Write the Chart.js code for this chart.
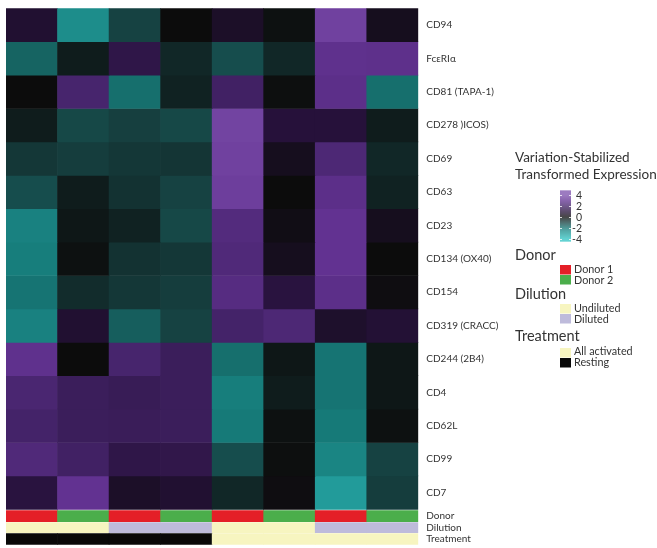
<!DOCTYPE html>
<html>
<head>
<meta charset="utf-8">
<script src="https://cdn.jsdelivr.net/npm/chart.js@4.4.1/dist/chart.umd.min.js"></script>
<style>
  html, body { margin: 0; padding: 0; background: #ffffff; }
  #wrap { width: 657px; height: 548px; }
</style>
</head>
<body>
<div id="wrap"><canvas id="heat" width="657" height="548"></canvas></div>
<script>
// Samples (columns), in plotting order
const samples = [
  'D1 Undiluted Resting', 'D2 Undiluted Resting', 'D1 Diluted Resting', 'D2 Diluted Resting',
  'D1 Undiluted Activated', 'D2 Undiluted Activated', 'D1 Diluted Activated', 'D2 Diluted Activated'
];

// Sample annotations
const donor = ['Donor 1', 'Donor 2', 'Donor 1', 'Donor 2', 'Donor 1', 'Donor 2', 'Donor 1', 'Donor 2'];
const dilution = ['Undiluted', 'Undiluted', 'Diluted', 'Diluted', 'Undiluted', 'Undiluted', 'Diluted', 'Diluted'];
const treatment = ['Resting', 'Resting', 'Resting', 'Resting', 'All activated', 'All activated', 'All activated', 'All activated'];

// Markers (rows), top to bottom
const markers = ['CD94', 'FcεRIα', 'CD81 (TAPA-1)', 'CD278 )ICOS)', 'CD69', 'CD63', 'CD23',
  'CD134 (OX40)', 'CD154', 'CD319 (CRACC)', 'CD244 (2B4)', 'CD4', 'CD62L', 'CD99', 'CD7'];

// Variation-stabilized transformed expression, one array per marker
const cd94   = [ 0.8, -2.5, -1.0,  0.0,  0.6, -0.1,  3.5,  0.4];
const fceri  = [-1.6, -0.3,  1.3, -0.5, -1.2, -0.5,  2.9,  2.85];
const cd81   = [ 0.0,  2.1, -1.8, -0.4,  1.9, -0.05, 2.8, -1.8];
const cd278  = [-0.3, -1.1, -0.95,-1.1,  3.6,  1.0,  1.0, -0.3];
const cd69   = [-0.8, -0.9, -0.8, -0.75, 3.5,  0.4,  2.3, -0.5];
const cd63   = [-1.2, -0.3, -0.7, -1.0,  3.4,  0.0,  2.8, -0.4];
const cd23   = [-2.2, -0.2, -0.4, -1.1,  2.5,  0.2,  3.0,  0.4];
const cd134  = [-2.1, -0.1, -0.7, -0.8,  2.4,  0.4,  3.0,  0.0];
const cd154  = [-1.9, -0.6, -0.8, -0.9,  2.6,  1.1,  2.8,  0.1];
const cd319  = [-2.2,  0.8, -1.5, -1.0,  2.0,  2.3,  0.7,  0.9];
const cd244  = [ 2.9,  0.0,  2.1,  1.7, -1.8, -0.2, -1.9, -0.2];
const cd4    = [ 2.2,  1.7,  1.6,  1.7, -2.1, -0.3, -1.9, -0.2];
const cd62l  = [ 2.0,  1.7,  1.65, 1.7, -2.0, -0.1, -2.0, -0.1];
const cd99   = [ 2.4,  1.9,  1.3,  1.35,-1.2, -0.05,-2.3, -1.0];
const cd7    = [ 1.1,  3.0,  0.6,  0.8, -0.5,  0.1, -2.9, -0.9];
const expression = [cd94, fceri, cd81, cd278, cd69, cd63, cd23, cd134, cd154, cd319, cd244, cd4, cd62l, cd99, cd7];

// Colour-bar tick labels
const scaleTicks = [4, 2, 0, -2, -4];

// Diverging colour map: teal (low) -> black (0) -> purple (high)
const stops = [
  [-4, [48, 196, 196]],
  [-2, [22, 122, 120]],
  [-1, [22, 66, 66]],
  [ 0, [12, 12, 12]],
  [ 1, [38, 17, 58]],
  [ 2, [68, 35, 105]],
  [ 3, [98, 50, 145]],
  [ 4, [125, 80, 172]]
];
function colourFor(v) {
  if (v <= stops[0][0]) return `rgb(${stops[0][1].join(',')})`;
  for (let i = 1; i < stops.length; i++) {
    if (v <= stops[i][0]) {
      const [v0, c0] = stops[i - 1], [v1, c1] = stops[i];
      const t = (v - v0) / (v1 - v0);
      const c = c0.map((x, k) => Math.round(x + (c1[k] - x) * t));
      return `rgb(${c.join(',')})`;
    }
  }
  return `rgb(${stops[stops.length - 1][1].join(',')})`;
}

const annotationColours = {
  'Donor 1': '#e41f27', 'Donor 2': '#4bae4b',
  'Undiluted': '#f7f5c0', 'Diluted': '#bebbdb',
  'All activated': '#f7f5c0', 'Resting': '#080808'
};

// Row bands on the y scale (units of one heatmap row)
const annotationRows = [
  { name: 'Donor', values: donor, band: [15.04, 15.37] },
  { name: 'Dilution', values: dilution, band: [15.40, 15.70] },
  { name: 'Treatment', values: treatment, band: [15.73, 16.06] }
];
const yMax = 16.06;

const datasets = [];
expression.forEach((row, r) => {
  datasets.push({
    label: markers[r],
    data: samples.map(() => [r, r + 1]),
    backgroundColor: row.map(colourFor),
    borderWidth: 0,
    grouped: false,
    categoryPercentage: 1,
    barPercentage: 1
  });
});
annotationRows.forEach(a => {
  datasets.push({
    label: a.name,
    data: samples.map(() => a.band),
    backgroundColor: a.values.map(v => annotationColours[v]),
    borderWidth: 0,
    grouped: false,
    categoryPercentage: 1,
    barPercentage: 1
  });
});

const tickValues = markers.map((_, i) => i + 0.5).concat(annotationRows.map(a => (a.band[0] + a.band[1]) / 2));
const tickLabels = markers.concat(annotationRows.map(a => a.name));

const FONT = 'Lato, "Open Sans", sans-serif';
const TEXT = '#333333';

// Legend: colour bar plus annotation keys
const legendPlugin = {
  id: 'sideLegend',
  afterDraw(chart) {
    const ctx = chart.ctx;
    ctx.save();
    ctx.fillStyle = TEXT;
    ctx.textBaseline = 'middle';
    ctx.textAlign = 'left';
    const x0 = 515;
    ctx.font = `13.5px ${FONT}`;
    ctx.fillText('Variation-Stabilized', x0, 157.5);
    ctx.fillText('Transformed Expression', x0, 175);

    // colour bar
    const bx = 560, bw = 11, top = 190.5, bottom = 241.5;
    const zeroY = 217.3, pxPerUnit = 5.5;
    for (let y = top; y < bottom; y++) {
      const v = (zeroY - (y + 0.5)) / pxPerUnit;
      ctx.fillStyle = colourFor(v);
      ctx.fillRect(bx, y, bw, 1);
    }
    ctx.strokeStyle = 'rgba(255,255,255,0.8)';
    ctx.lineWidth = 1;
    ctx.font = `10.5px ${FONT}`;
    ctx.textAlign = 'right';
    scaleTicks.forEach(t => {
      const y = Math.round(zeroY - t * pxPerUnit) + 0.5;
      ctx.beginPath();
      ctx.moveTo(bx, y); ctx.lineTo(bx + 2, y);
      ctx.moveTo(bx + bw - 2, y); ctx.lineTo(bx + bw, y);
      ctx.stroke();
      ctx.fillStyle = TEXT;
      ctx.fillText(String(t), 582, y);
    });

    // annotation keys
    const groups = [
      { title: 'Donor', titleY: 255, items: [['Donor 1', 265, 270], ['Donor 2', 275, 280.5]] },
      { title: 'Dilution', titleY: 294, items: [['Undiluted', 304, 308.5], ['Diluted', 314, 319.5]] },
      { title: 'Treatment', titleY: 336.5, items: [['All activated', 348, 352], ['Resting', 358, 362.5]] }
    ];
    groups.forEach(g => {
      ctx.textAlign = 'left';
      ctx.fillStyle = TEXT;
      ctx.font = `14.5px ${FONT}`;
      ctx.fillText(g.title, x0, g.titleY);
      ctx.font = `10.8px ${FONT}`;
      g.items.forEach(([name, sy, ty]) => {
        ctx.fillStyle = annotationColours[name];
        ctx.fillRect(560, sy, 11, 9.5);
        ctx.fillStyle = TEXT;
        ctx.fillText(name, 574, ty);
      });
    });
    ctx.restore();
  }
};

new Chart(document.getElementById('heat'), {
  type: 'bar',
  data: { labels: samples, datasets },
  options: {
    responsive: false,
    devicePixelRatio: 1,
    animation: false,
    layout: { padding: { left: 6, top: 8.3, bottom: 3.3, right: 0 } },
    plugins: { legend: { display: false }, tooltip: { enabled: false } },
    scales: {
      x: { display: false, offset: true, grid: { display: false } },
      y: {
        type: 'linear',
        position: 'right',
        reverse: true,
        min: 0,
        max: yMax,
        grid: { display: false, drawTicks: false },
        border: { display: false },
        afterBuildTicks(axis) { axis.ticks = tickValues.map(v => ({ value: v })); },
        afterFit(axis) {
          axis.width = 657 - 418.3;
          axis.paddingTop = 0;
          axis.paddingBottom = 0;
        },
        ticks: {
          autoSkip: false,
          padding: 8,
          color: TEXT,
          font: { family: FONT, size: 10 },
          callback: (value, index) => tickLabels[index]
        }
      }
    }
  },
  plugins: [legendPlugin]
});
</script>
</body>
</html>
